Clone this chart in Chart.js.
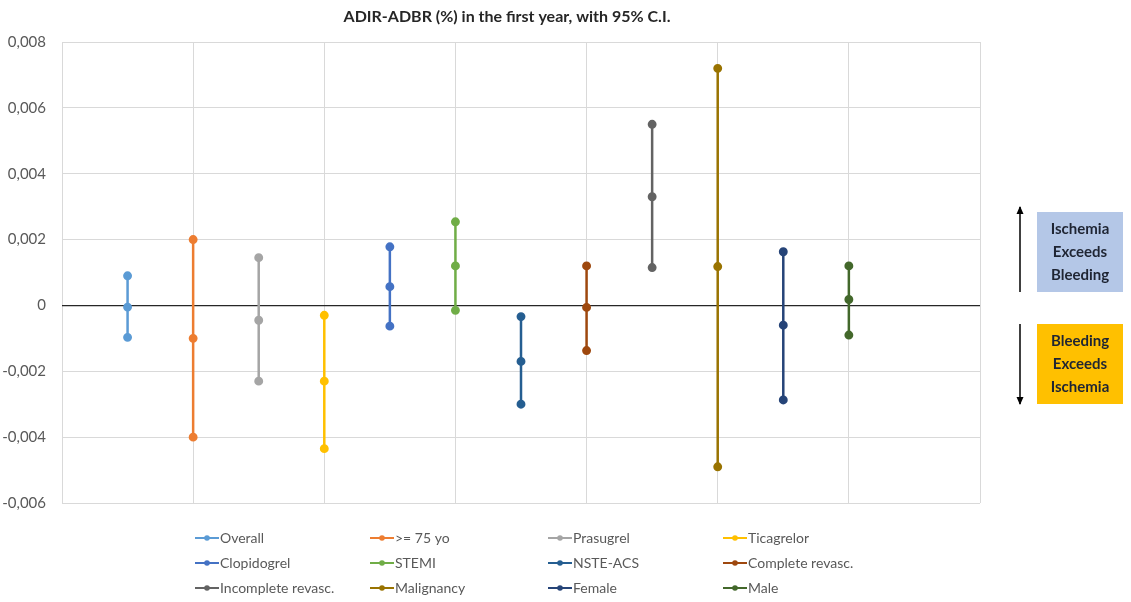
<!DOCTYPE html>
<html>
<head>
<meta charset="utf-8">
<script src="https://cdn.jsdelivr.net/npm/chart.js@4"></script>
<style>
  html, body { margin: 0; padding: 0; background: #fff; }
  #wrap { width: 1131px; height: 602px; position: relative; }
</style>
</head>
<body>
<div id="wrap"><canvas id="myChart" width="1131" height="602"></canvas></div>
<script>
// groups, in legend order
let labels = ['Overall', '>= 75 yo', 'Prasugrel', 'Ticagrelor', 'Clopidogrel', 'STEMI',
    'NSTE-ACS', 'Complete revasc.', 'Incomplete revasc.', 'Malignancy', 'Female', 'Male'];
let colorHex = ['#5B9BD5', '#ED7D31', '#A5A5A5', '#FFC000', '#4472C4', '#70AD47',
    '#255E91', '#9E480E', '#636363', '#997300', '#264478', '#43682B'];

// upper C.I., estimate, lower C.I.
let upper = [0.0009, 0.0020, 0.00145, -0.0003, 0.00178, 0.00254, -0.00034, 0.0012, 0.0055, 0.0072, 0.00163, 0.0012];
let estimate = [-0.00005, -0.0010, -0.00045, -0.0023, 0.00057, 0.0012, -0.0017, -0.00006, 0.0033, 0.00118, -0.0006, 0.00018];
let lower = [-0.00097, -0.0040, -0.0023, -0.00435, -0.00063, -0.00015, -0.0030, -0.00137, 0.00115, -0.0049, -0.00287, -0.0009];

let yTicks = [-0.006, -0.004, -0.002, 0, 0.002, 0.004, 0.006, 0.008];

const FONT = 'Lato, "Open Sans", sans-serif';

let datasets = labels.map((name, i) => ({
    label: name,
    data: [
        { x: i + 1, y: upper[i] },
        { x: i + 1, y: estimate[i] },
        { x: i + 1, y: lower[i] }
    ],
    borderColor: colorHex[i],
    backgroundColor: colorHex[i],
    borderWidth: 2.5,
    pointRadius: 3.2,
    pointHoverRadius: 4,
    showLine: true
}));

// title, legend grid and the two side notes
const extras = {
    id: 'extras',
    afterDraw(chart) {
        const c = chart.ctx;
        c.save();

        c.fillStyle = '#262626';
        c.font = 'bold 16px ' + FONT;
        c.textAlign = 'center';
        c.textBaseline = 'middle';
        c.fillText('ADIR-ADBR (%) in the first year, with 95% C.I.', 507, 17);

        // legend, 4 columns x 3 rows
        const cols = [195, 370, 548, 723];
        const rows = [538, 563, 588];
        c.font = '14px ' + FONT;
        c.textAlign = 'left';
        chart.data.datasets.forEach((ds, i) => {
            const x = cols[i % 4];
            const y = rows[Math.floor(i / 4)];
            c.strokeStyle = ds.borderColor;
            c.fillStyle = ds.borderColor;
            c.lineWidth = 2;
            c.beginPath();
            c.moveTo(x, y);
            c.lineTo(x + 24, y);
            c.stroke();
            c.beginPath();
            c.arc(x + 12, y, 2.8, 0, Math.PI * 2);
            c.fill();
            c.fillStyle = '#595959';
            c.fillText(ds.label, x + 25, y);
        });

        // arrows
        c.strokeStyle = '#000';
        c.fillStyle = '#000';
        c.lineWidth = 1.5;
        const arrow = (x, y1, y2) => {
            c.beginPath();
            c.moveTo(x, y1);
            c.lineTo(x, y2);
            c.stroke();
            const d = y2 < y1 ? -1 : 1;
            c.beginPath();
            c.moveTo(x, y2 + d * 1);
            c.lineTo(x - 3.5, y2 - d * 7);
            c.lineTo(x + 3.5, y2 - d * 7);
            c.closePath();
            c.fill();
        };
        arrow(1020, 292, 207);
        arrow(1020, 324, 404);

        // boxes
        const box = (y, h, fill, lines) => {
            c.fillStyle = fill;
            c.fillRect(1037, y, 86, h);
            c.fillStyle = '#1f2533';
            c.font = 'bold 15px ' + FONT;
            c.textAlign = 'center';
            lines.forEach((t, k) => c.fillText(t, 1080, y + 17 + k * 23));
        };
        box(212, 80, '#B4C7E7', ['Ischemia', 'Exceeds', 'Bleeding']);
        box(324, 80, '#FFC000', ['Bleeding', 'Exceeds', 'Ischemia']);

        c.restore();
    }
};

let ctx = document.getElementById('myChart');

let myChart = new Chart(ctx, {
    type: 'scatter',
    data: { datasets: datasets },
    options: {
        responsive: false,
        animation: false,
        layout: { padding: { top: 42, right: 151, bottom: 99, left: 0 } },
        plugins: {
            legend: { display: false },
            tooltip: { enabled: false }
        },
        scales: {
            x: {
                type: 'linear',
                min: 0,
                max: 14,
                ticks: { display: false, stepSize: 2 },
                grid: { color: '#d9d9d9', lineWidth: 1, drawTicks: false },
                border: { display: false },
                afterFit: (scale) => { scale.height = 0; }
            },
            y: {
                min: -0.006,
                max: 0.008,
                afterBuildTicks: (scale) => {
                    scale.ticks = yTicks.map(v => ({ value: v }));
                },
                afterFit: (scale) => { scale.width = 62; },
                ticks: {
                    padding: 16,
                    color: '#595959',
                    font: { family: FONT, size: 15 },
                    callback: (v) => {
                        if (Math.abs(v) < 1e-9) return '0';
                        return v.toFixed(3).replace('.', ',');
                    }
                },
                grid: {
                    drawTicks: false,
                    color: (c) => Math.abs(c.tick.value) < 1e-9 ? '#262626' : '#d9d9d9',
                    lineWidth: (c) => Math.abs(c.tick.value) < 1e-9 ? 1.3 : 1
                },
                border: { display: false }
            }
        }
    },
    plugins: [extras]
});
</script>
</body>
</html>
